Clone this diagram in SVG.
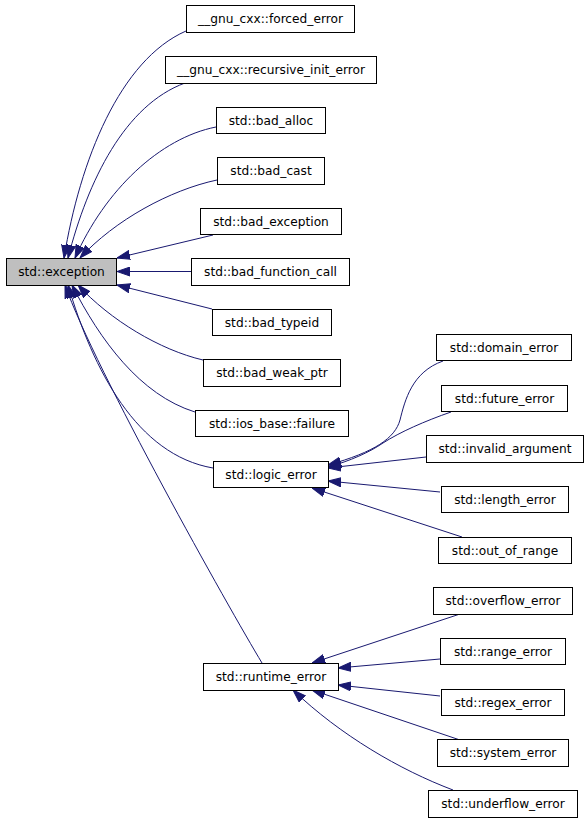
<svg xmlns="http://www.w3.org/2000/svg" width="587" height="823" viewBox="0 0 587 823">
<style>
.n rect{fill:#ffffff;stroke:#000000;stroke-width:1}
.n.root rect{fill:#bfbfbf}
.n text{font-family:"DejaVu Sans","Liberation Sans",sans-serif;font-size:12.2px;fill:#000000;text-anchor:middle}
.e path{fill:none;stroke:#191970;stroke-width:1;marker-end:url(#ah)}
</style>
<defs>
<marker id="ah" markerUnits="userSpaceOnUse" markerWidth="13" markerHeight="10" viewBox="0 0 13 10" refX="13" refY="5" orient="auto">
<path d="M0,0.5 L13,5 L0,9.5 z" fill="#191970" stroke="#191970" stroke-width="1"/>
</marker>
</defs>
<rect width="587" height="823" fill="#ffffff"/>
<g id="connectors" class="e">
<path d="M186,31 C120,60 80,160 64,258"/>
<path d="M185,83 C125,105 88,180 68,258"/>
<path d="M216,127 C160,138 105,190 75,258"/>
<path d="M217,180 C170,190 115,220 80,258"/>
<path d="M213,235 L117,258"/>
<path d="M191,271.5 L117,271.5"/>
<path d="M212,309 L117,285"/>
<path d="M203,360 C160,350 110,320 78,285"/>
<path d="M195,412 C140,395 100,340 72,285"/>
<path d="M213,468 C137,455 93,370 68,285"/>
<path d="M262,663 C230,610 95,370 65,285"/>
<path d="M443,361 C412,372 405,400 400,420 C395,438 375,452 328,465"/>
<path d="M451,412 C425,421 400,432 383,443 C370,452 350,461 328,467"/>
<path d="M426,457 L328,468"/>
<path d="M440,492 L328,481"/>
<path d="M462,537 L312,488"/>
<path d="M460,614 L312,663"/>
<path d="M440,659 L338,668"/>
<path d="M440,696 L338,685"/>
<path d="M460,740 L312,690"/>
<path d="M453,790 C400,770 340,735 293,690"/>
</g>
<g id="std_exception" class="n root"><rect x="6.5" y="258.5" width="110" height="27"/><text x="61.5" y="276">std::exception</text></g>
<g id="forced_error" class="n"><rect x="186.5" y="5.5" width="168" height="27"/><text x="270.5" y="23">__gnu_cxx::forced_error</text></g>
<g id="recursive_init_error" class="n"><rect x="165.5" y="56.5" width="211" height="27"/><text x="271" y="74">__gnu_cxx::recursive_init_error</text></g>
<g id="bad_alloc" class="n"><rect x="216.5" y="107.5" width="109" height="26"/><text x="271" y="124.5">std::bad_alloc</text></g>
<g id="bad_cast" class="n"><rect x="217.5" y="157.5" width="107" height="27"/><text x="271" y="175">std::bad_cast</text></g>
<g id="bad_exception" class="n"><rect x="200.5" y="208.5" width="141" height="26"/><text x="271" y="225.5">std::bad_exception</text></g>
<g id="bad_function_call" class="n"><rect x="191.5" y="258.5" width="158" height="27"/><text x="270.5" y="276">std::bad_function_call</text></g>
<g id="bad_typeid" class="n"><rect x="212.5" y="309.5" width="119" height="26"/><text x="272" y="326.5">std::bad_typeid</text></g>
<g id="bad_weak_ptr" class="n"><rect x="203.5" y="359.5" width="137" height="27"/><text x="272" y="377">std::bad_weak_ptr</text></g>
<g id="ios_base_failure" class="n"><rect x="195.5" y="410.5" width="153" height="26"/><text x="272" y="427.5">std::ios_base::failure</text></g>
<g id="logic_error" class="n"><rect x="213.5" y="461.5" width="115" height="26"/><text x="271" y="478.5">std::logic_error</text></g>
<g id="domain_error" class="n"><rect x="436.5" y="334.5" width="135" height="26"/><text x="504" y="351.5">std::domain_error</text></g>
<g id="future_error" class="n"><rect x="441.5" y="385.5" width="126" height="26"/><text x="504.5" y="402.5">std::future_error</text></g>
<g id="invalid_argument" class="n"><rect x="426.5" y="435.5" width="157" height="27"/><text x="505" y="453">std::invalid_argument</text></g>
<g id="length_error" class="n"><rect x="441.5" y="486.5" width="127" height="26"/><text x="505" y="503.5">std::length_error</text></g>
<g id="out_of_range" class="n"><rect x="438.5" y="537.5" width="133" height="26"/><text x="505" y="554.5">std::out_of_range</text></g>
<g id="overflow_error" class="n"><rect x="433.5" y="587.5" width="139" height="27"/><text x="503" y="605">std::overflow_error</text></g>
<g id="range_error" class="n"><rect x="440.5" y="638.5" width="125" height="26"/><text x="503" y="655.5">std::range_error</text></g>
<g id="runtime_error" class="n"><rect x="203.5" y="663.5" width="135" height="27"/><text x="271" y="681">std::runtime_error</text></g>
<g id="regex_error" class="n"><rect x="441.5" y="689.5" width="123" height="26"/><text x="503" y="706.5">std::regex_error</text></g>
<g id="system_error" class="n"><rect x="437.5" y="739.5" width="131" height="27"/><text x="503" y="757">std::system_error</text></g>
<g id="underflow_error" class="n"><rect x="428.5" y="790.5" width="149" height="27"/><text x="503" y="808">std::underflow_error</text></g>
</svg>
